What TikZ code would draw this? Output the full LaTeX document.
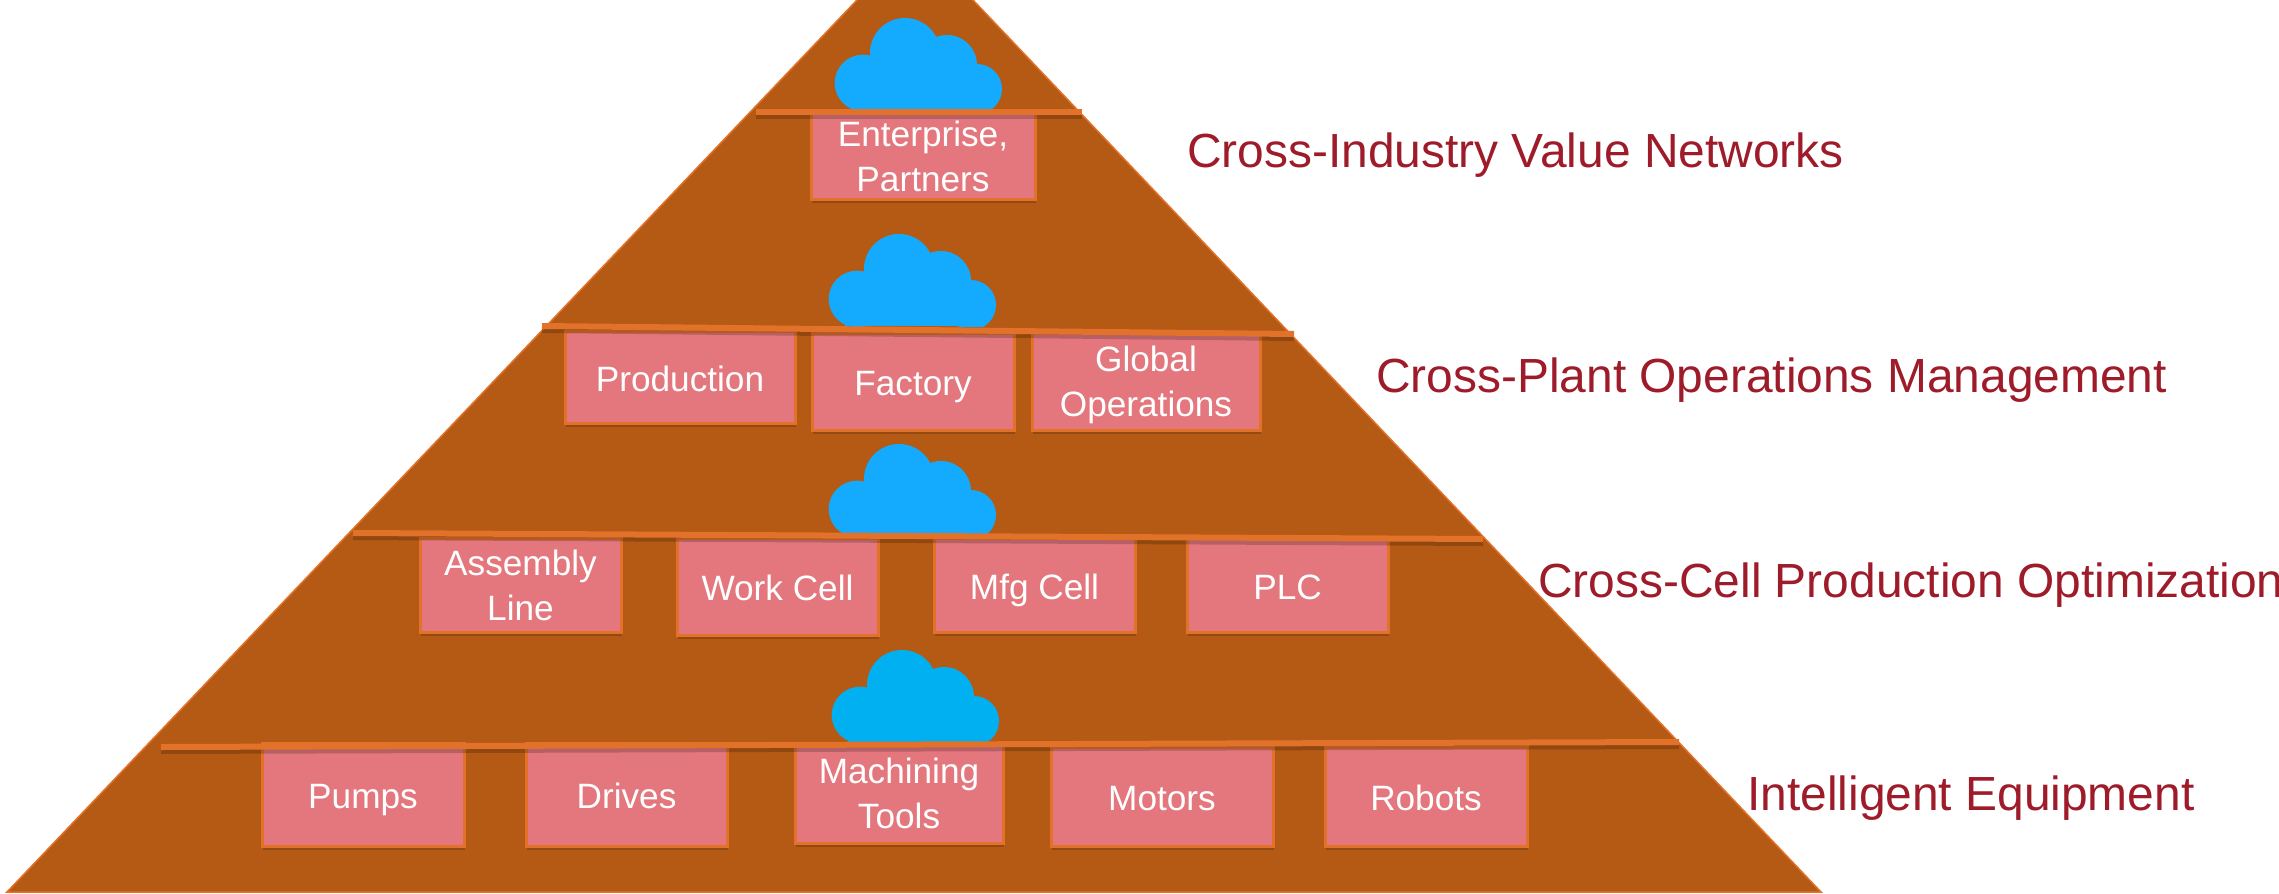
\documentclass[tikz,border=0pt]{standalone}
\usepackage{fontspec}
\setmainfont{Liberation Sans}
\usepackage{xcolor}
\usetikzlibrary{shadows}

\definecolor{pyramidbrown}{HTML}{B55A14}
\definecolor{edgeorange}{HTML}{E2712A}
\definecolor{tagpink}{HTML}{E4777D}
\definecolor{cloudblue}{HTML}{14ABFF}
\definecolor{cloudcyan}{HTML}{00B0F0}
\definecolor{leveltext}{HTML}{9E1B2A}

\newcommand{\tagstrut}{\rule[-8pt]{0pt}{44pt}}
\newcommand{\tagdown}[2][16.5pt]{\smash{\raisebox{-#1}{#2}}}

\tikzset{
    tagbox/.style={draw=edgeorange, line width=3pt, fill=tagpink, text=white,
        inner sep=0pt, outer sep=0pt, align=center,
        font=\fontsize{35.2}{45}\selectfont,
        execute at begin node=\tagstrut, execute at end node=\tagstrut,
        general shadow={shadow xshift=1pt, shadow yshift=-4pt, fill=black, opacity=0.18}},
    levellabel/.style={anchor=west, inner sep=0pt, text=leveltext,
        font=\fontsize{47.9}{56}\selectfont},
    shelf/.style={edgeorange, line width=6pt},
    shelfshadow/.style={black, opacity=0.2, line width=6pt},
    pics/skycloud/.style={code={
        \begin{scope}
            \clip (-5,-100) rectangle (175,0);
            \fill[#1] (28,-27) circle (28.3);
            \fill[#1] (70,-57) circle (35);
            \fill[#1] (112,-45) circle (30);
            \fill[#1] (142,-21) circle (25);
            \fill[#1] (16,-40) rectangle (150,0);
        \end{scope}
    }}
}

\begin{document}
\begin{tikzpicture}[x=1pt, y=-1pt]
    \useasboundingbox (0,0) rectangle (2279,894);

    % Pyramid
    \filldraw[fill=pyramidbrown, draw=edgeorange, line width=1.5pt]
        (7,892) -- (866.5,-10) -- (963.5,-10) -- (1821,892) -- cycle;

    % Clouds
    \pic (cloudA) at (835,110) {skycloud=cloudblue};
    \pic (cloudB) at (829,326) {skycloud=cloudblue};
    \pic (cloudC) at (829,536) {skycloud=cloudblue};
    \pic (cloudD) at (832,742) {skycloud=cloudcyan};

    % Boxes
    \foreach \name/\xa/\ya/\xb/\yb/\txt in {
        enterprise/811/110/1035/199/{\tagdown[18pt]{Enterprise,}\\\tagdown[18pt]{Partners}},
        production/565/331/795/423/{Production},
        factory/812/333/1014/430/{Factory},
        globalops/1032/333/1260/430/{\tagdown{Global}\\\tagdown{Operations}},
        assembly/420/538/621/632/{\tagdown{Assembly}\\\tagdown{Line}},
        workcell/677/538/878/635/{Work Cell},
        mfgcell/934/538/1135/632/{Mfg Cell},
        plc/1187/538/1388/632/{PLC},
        pumps/262/743/464/846/{Pumps},
        drives/526/743/727/846/{Drives},
        machining/795/743/1003/843/{\tagdown{Machining}\\\tagdown{Tools}},
        motors/1051/747/1273/846/{Motors},
        robots/1325/747/1527/846/{Robots}} {
        \pgfmathsetmacro{\w}{\xb-\xa}
        \pgfmathsetmacro{\h}{\yb-\ya}
        \node[tagbox, minimum width=\w pt, minimum height=\h pt] (\name)
            at ({(\xa+\xb)/2},{(\ya+\yb)/2}) {\txt};
    }

    % Shelves
    \draw[shelfshadow] (756,116) -- (1082,116);
    \draw[shelf] (756,112) -- (1082,112);
    \draw[shelfshadow] (542,330) -- (1294,338);
    \draw[shelf] (542,326) -- (1294,334);
    \draw[shelfshadow] (353,537) -- (1483,543);
    \draw[shelf] (353,533) -- (1483,539);
    \draw[shelfshadow] (161,751) -- (1679,746);
    \draw[shelf] (161,747) -- (1679,742);

    % Level labels
    \node[levellabel] (levelA) at (1187,155) {Cross-Industry Value Networks};
    \node[levellabel] (levelB) at (1376,380) {Cross-Plant Operations Management};
    \node[levellabel] (levelC) at (1538,585) {Cross-Cell Production Optimization};
    \node[levellabel] (levelD) at (1747,798) {Intelligent Equipment};
\end{tikzpicture}
\end{document}
